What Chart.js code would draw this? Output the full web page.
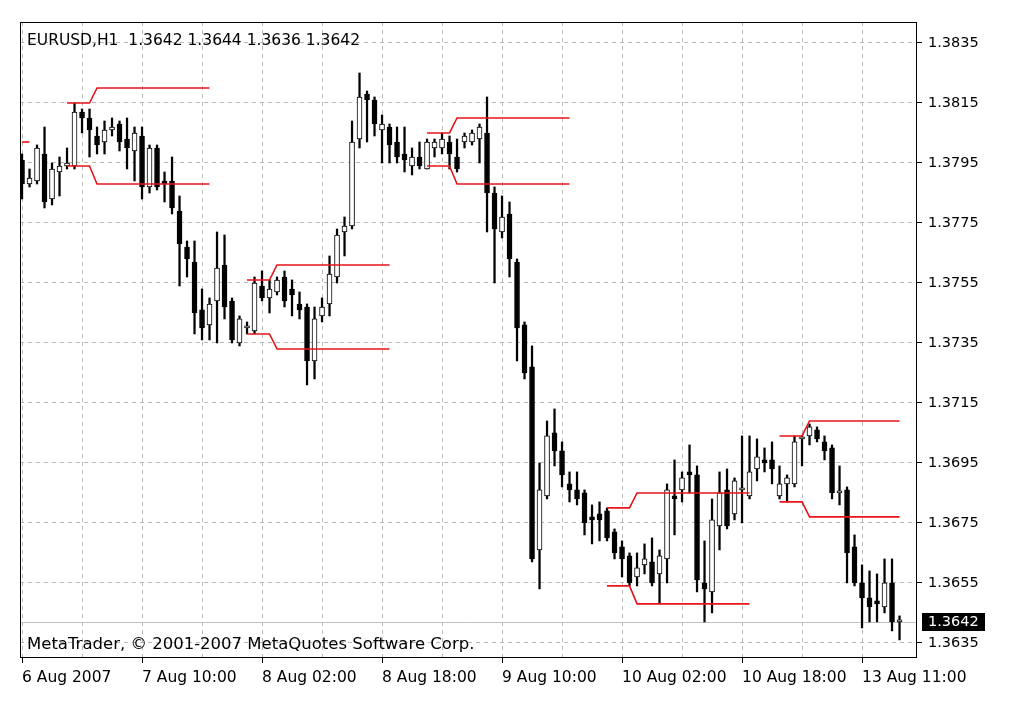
<!DOCTYPE html>
<html>
<head>
<meta charset="utf-8">
<title>EURUSD,H1</title>
<script src="https://cdn.jsdelivr.net/npm/chart.js@4.4.1/dist/chart.umd.min.js"></script>
<style>
  html, body { margin: 0; padding: 0; background: #fff; }
</style>
</head>
<body>
<canvas id="priceChart" width="1016" height="702"></canvas>
<script>
// EURUSD H1 bars (index 0 = 6 Aug 2007 18:00)
const symbol = 'EURUSD';
const period = 'H1';

const opens = [
  1.3796, 1.3788, 1.3789, 1.3798, 1.3783, 1.3792, 1.3794, 1.3794, 1.3812, 1.3810,
  1.3804, 1.3802, 1.3806, 1.3808, 1.3803, 1.3799, 1.3804, 1.3787, 1.3800, 1.3789,
  1.3789, 1.3779, 1.3767, 1.3762, 1.3746, 1.3741, 1.3749, 1.3761, 1.3749, 1.3735,
  1.3740, 1.3739, 1.3754, 1.3750, 1.3752, 1.3757, 1.3753, 1.3748, 1.3747, 1.3729,
  1.3744, 1.3748, 1.3757, 1.3772, 1.3774, 1.3803, 1.3818, 1.3816, 1.3806, 1.3807,
  1.3802, 1.3798, 1.3794, 1.3797, 1.3793, 1.3800, 1.3800, 1.3802, 1.3797, 1.3802,
  1.3802, 1.3803, 1.3805, 1.3785, 1.3772, 1.3778, 1.3762, 1.3741, 1.3727, 1.3666,
  1.3684, 1.3705, 1.3699, 1.3688, 1.3686, 1.3685, 1.3677, 1.3678, 1.3679, 1.3672,
  1.3667, 1.3664, 1.3657, 1.3661, 1.3662, 1.3658, 1.3663, 1.3684, 1.3686, 1.3692,
  1.3691, 1.3655, 1.3652, 1.3674, 1.3686, 1.3678, 1.3686, 1.3684, 1.3693, 1.3696,
  1.3696, 1.3684, 1.3688, 1.3688, 1.3703, 1.3704, 1.3706, 1.3702, 1.3700, 1.3685,
  1.3686, 1.3667, 1.3655, 1.3650, 1.3649, 1.3647, 1.3655, 1.3642
];
const highs = [
  1.3798, 1.3793, 1.3801, 1.3807, 1.3795, 1.3797, 1.3800, 1.3815, 1.3813, 1.3813,
  1.3807, 1.3809, 1.3810, 1.3809, 1.3810, 1.3807, 1.3807, 1.3801, 1.3801, 1.3792,
  1.3797, 1.3784, 1.3769, 1.3769, 1.3753, 1.3750, 1.3772, 1.3771, 1.3750, 1.3744,
  1.3742, 1.3757, 1.3759, 1.3756, 1.3757, 1.3759, 1.3756, 1.3752, 1.3748, 1.3747,
  1.3750, 1.3764, 1.3773, 1.3777, 1.3809, 1.3825, 1.3819, 1.3817, 1.3811, 1.3808,
  1.3807, 1.3807, 1.3800, 1.3802, 1.3803, 1.3803, 1.3805, 1.3804, 1.3803, 1.3805,
  1.3806, 1.3808, 1.3817, 1.3787, 1.3784, 1.3782, 1.3763, 1.3742, 1.3734, 1.3695,
  1.3709, 1.3713, 1.3702, 1.3692, 1.3692, 1.3686, 1.3681, 1.3682, 1.3680, 1.3673,
  1.3669, 1.3665, 1.3665, 1.3668, 1.3670, 1.3666, 1.3688, 1.3696, 1.3692, 1.3701,
  1.3694, 1.3669, 1.3683, 1.3692, 1.3693, 1.3690, 1.3704, 1.3704, 1.3703, 1.3700,
  1.3702, 1.3694, 1.3691, 1.3704, 1.3704, 1.3708, 1.3707, 1.3704, 1.3701, 1.3694,
  1.3687, 1.3671, 1.3661, 1.3659, 1.3658, 1.3663, 1.3663, 1.3644
];
const lows = [
  1.3783, 1.3787, 1.3788, 1.3780, 1.3781, 1.3784, 1.3793, 1.3793, 1.3805, 1.3797,
  1.3798, 1.3798, 1.3804, 1.3799, 1.3793, 1.3789, 1.3783, 1.3785, 1.3786, 1.3782,
  1.3778, 1.3754, 1.3757, 1.3738, 1.3736, 1.3736, 1.3735, 1.3743, 1.3735, 1.3734,
  1.3738, 1.3738, 1.3749, 1.3745, 1.3751, 1.3747, 1.3744, 1.3743, 1.3721, 1.3723,
  1.3742, 1.3744, 1.3755, 1.3764, 1.3773, 1.3800, 1.3802, 1.3804, 1.3795, 1.3795,
  1.3795, 1.3792, 1.3791, 1.3793, 1.3793, 1.3797, 1.3798, 1.3793, 1.3792, 1.3800,
  1.3801, 1.3795, 1.3772, 1.3755, 1.3770, 1.3757, 1.3729, 1.3723, 1.3662, 1.3653,
  1.3683, 1.3694, 1.3687, 1.3682, 1.3681, 1.3671, 1.3668, 1.3669, 1.3669, 1.3663,
  1.3657, 1.3654, 1.3654, 1.3658, 1.3654, 1.3648, 1.3655, 1.3671, 1.3682, 1.3685,
  1.3652, 1.3642, 1.3645, 1.3666, 1.3673, 1.3676, 1.3675, 1.3683, 1.3689, 1.3692,
  1.3688, 1.3683, 1.3682, 1.3687, 1.3694, 1.3701, 1.3702, 1.3696, 1.3683, 1.3681,
  1.3655, 1.3654, 1.3640, 1.3642, 1.3642, 1.3645, 1.3639, 1.3636
];
const closes = [
  1.3788, 1.3790, 1.3800, 1.3782, 1.3793, 1.3794, 1.3795, 1.3812, 1.3810, 1.3806,
  1.3801, 1.3806, 1.3807, 1.3802, 1.3800, 1.3805, 1.3787, 1.3800, 1.3787, 1.3788,
  1.3780, 1.3768, 1.3763, 1.3745, 1.3740, 1.3748, 1.3760, 1.3747, 1.3736, 1.3743,
  1.3740, 1.3755, 1.3750, 1.3753, 1.3756, 1.3749, 1.3751, 1.3746, 1.3729, 1.3743,
  1.3747, 1.3758, 1.3771, 1.3774, 1.3802, 1.3817, 1.3816, 1.3808, 1.3808, 1.3801,
  1.3797, 1.3796, 1.3797, 1.3794, 1.3802, 1.3802, 1.3803, 1.3798, 1.3793, 1.3804,
  1.3805, 1.3807, 1.3785, 1.3773, 1.3777, 1.3763, 1.3740, 1.3725, 1.3663, 1.3686,
  1.3704, 1.3699, 1.3691, 1.3686, 1.3683, 1.3675, 1.3676, 1.3676, 1.3670, 1.3665,
  1.3663, 1.3655, 1.3660, 1.3663, 1.3655, 1.3664, 1.3686, 1.3683, 1.3690, 1.3691,
  1.3656, 1.3653, 1.3676, 1.3685, 1.3674, 1.3689, 1.3686, 1.3692, 1.3697, 1.3695,
  1.3693, 1.3688, 1.3690, 1.3702, 1.3703, 1.3707, 1.3703, 1.3699, 1.3685, 1.3685,
  1.3665, 1.3655, 1.3650, 1.3647, 1.3648, 1.3655, 1.3642, 1.3642
];

// time axis labels (bar index -> text)
const timeLabelIdx = [0, 16, 32, 48, 64, 80, 96, 112];
const timeLabels = ['6 Aug 2007', '7 Aug 10:00', '8 Aug 02:00', '8 Aug 18:00',
                    '9 Aug 10:00', '10 Aug 02:00', '10 Aug 18:00', '13 Aug 11:00'];
const priceTicks = [1.3835, 1.3815, 1.3795, 1.3775, 1.3755, 1.3735, 1.3715, 1.3695, 1.3675, 1.3655, 1.3635];

// red range indicator: first bar of each range, level for the first 4 bars, then the level after the step
const rangeStart = [6, 30, 54, 78, 101];
const upperFirst = [1.3815, 1.3756, 1.3805, 1.3680, 1.3704];
const upperSecond = [1.3820, 1.3761, 1.3810, 1.3685, 1.3709];
const lowerFirst = [1.3794, 1.3738, 1.3794, 1.3654, 1.3682];
const lowerSecond = [1.3788, 1.3733, 1.3788, 1.3648, 1.3677];
// tail of the previous range at the left edge
const prevRangeIdx = [0, 1];
const prevRangeLevel = 1.3802;

const nBars = closes.length;
const lastBar = nBars - 1;

function rangeLine(first, second) {
    const pts = [];
    rangeStart.forEach(function (s, k) {
        const end = Math.min(s + 19, lastBar);
        for (let i = s; i <= end; i++) {
            pts.push({ x: i, y: i <= s + 3 ? first[k] : second[k] });
        }
        pts.push({ x: end + 0.5, y: null }); // break between ranges
    });
    return pts;
}

const wicks = lows.map((l, i) => ({ x: i, y: [l, highs[i]] }));
const bodies = opens.map((o, i) => ({ x: i, y: [o, closes[i]] }));
const isUp = i => closes[i] >= opens[i];

const fontFamily = '"DejaVu Sans", Verdana, sans-serif';

const mtOverlay = {
    id: 'mtOverlay',
    beforeDatasetsDraw(chart) {
        const { ctx, chartArea } = chart;
        const y = Math.round(chart.scales.y.getPixelForValue(closes[lastBar])) + 0.5;
        ctx.save();
        ctx.strokeStyle = '#c0c0c0';
        ctx.lineWidth = 1;
        ctx.beginPath();
        ctx.moveTo(chartArea.left, y);
        ctx.lineTo(chartArea.right, y);
        ctx.stroke();
        ctx.restore();
    },
    afterDraw(chart) {
        const { ctx, chartArea } = chart;
        ctx.save();
        // frame
        ctx.strokeStyle = '#000';
        ctx.lineWidth = 1;
        ctx.strokeRect(chartArea.left + 0.5, chartArea.top + 0.5,
                       chartArea.right - chartArea.left - 1, chartArea.bottom - chartArea.top);
        // header text
        ctx.fillStyle = '#000';
        ctx.textBaseline = 'middle';
        ctx.textAlign = 'left';
        const f = v => v.toFixed(4);
        ctx.font = '15.5px ' + fontFamily;
        ctx.fillText(symbol + ',' + period + '  ' + f(opens[lastBar]) + ' ' + f(highs[lastBar]) + ' ' +
                     f(lows[lastBar]) + ' ' + f(closes[lastBar]), chartArea.left + 7, chartArea.top + 19);
        ctx.font = '16.5px ' + fontFamily;
        ctx.fillText('MetaTrader, \u00A9 2001-2007 MetaQuotes Software Corp.', chartArea.left + 7, chartArea.bottom - 12);
        // last price box
        const yp = Math.round(chart.scales.y.getPixelForValue(closes[lastBar]));
        ctx.fillStyle = '#000';
        ctx.fillRect(chartArea.right + 5, yp - 9, 63, 18);
        ctx.fillStyle = '#fff';
        ctx.font = '14.5px ' + fontFamily;
        ctx.fillText(f(closes[lastBar]), chartArea.right + 11, yp);
        ctx.restore();
    }
};

const xTickColor = c => (c.tick && timeLabelIdx.includes(c.tick.value)) ? '#000' : 'rgba(0,0,0,0)';

const ctx = document.getElementById('priceChart').getContext('2d');
new Chart(ctx, {
    type: 'bar',
    data: {
        datasets: [
            {
                type: 'line',
                label: 'range high',
                data: rangeLine(upperFirst, upperSecond),
                borderColor: '#e8141a',
                borderWidth: 1.6,
                pointRadius: 0,
                spanGaps: false,
                order: 0
            },
            {
                type: 'line',
                label: 'range low',
                data: rangeLine(lowerFirst, lowerSecond),
                borderColor: '#e8141a',
                borderWidth: 1.6,
                pointRadius: 0,
                spanGaps: false,
                order: 0
            },
            {
                type: 'line',
                label: 'previous range',
                data: prevRangeIdx.map(i => ({ x: i, y: prevRangeLevel })),
                borderColor: '#e8141a',
                borderWidth: 1.6,
                pointRadius: 0,
                order: 0
            },
            {
                label: 'body',
                data: bodies,
                grouped: false,
                barThickness: 5,
                minBarLength: 2,
                borderWidth: 1,
                borderSkipped: false,
                borderColor: '#000',
                backgroundColor: c => isUp(c.dataIndex) ? '#fff' : '#000',
                order: 1
            },
            {
                label: 'wick',
                data: wicks,
                grouped: false,
                barThickness: 1.6,
                backgroundColor: '#000',
                borderWidth: 0,
                order: 2
            }
        ]
    },
    options: {
        responsive: false,
        animation: false,
        layout: { padding: { left: 20, top: 22, right: 0, bottom: 0 } },
        plugins: {
            legend: { display: false },
            tooltip: { enabled: false }
        },
        scales: {
            x: {
                type: 'linear',
                offset: false,
                min: -0.27,
                max: 119.33,
                afterBuildTicks: scale => {
                    const t = [];
                    for (let i = 0; i <= 112; i += 8) t.push({ value: i });
                    scale.ticks = t;
                },
                afterFit: scale => { scale.height = 45; },
                grid: {
                    offset: false,
                    color: '#b8b8b8',
                    tickColor: xTickColor,
                    tickLength: 6,
                    tickBorderDash: []
                },
                border: { display: false, dash: [4, 4] },
                ticks: {
                    autoSkip: false,
                    maxRotation: 0,
                    align: 'start',
                    padding: 6,
                    color: '#000',
                    font: { family: fontFamily, size: 15.5 },
                    callback: value => {
                        const k = timeLabelIdx.indexOf(value);
                        return k >= 0 ? timeLabels[k] : '';
                    }
                }
            },
            y: {
                position: 'right',
                min: 1.36303,
                max: 1.38420,
                afterBuildTicks: scale => {
                    scale.ticks = priceTicks.map(v => ({ value: v }));
                },
                afterFit: scale => { scale.width = 99; },
                grid: {
                    color: '#b8b8b8',
                    tickColor: '#000',
                    tickLength: 5,
                    tickBorderDash: []
                },
                border: { display: false, dash: [4, 4] },
                ticks: {
                    padding: 6,
                    color: '#000',
                    font: { family: fontFamily, size: 14.5 },
                    callback: value => value.toFixed(4)
                }
            }
        }
    },
    plugins: [mtOverlay]
});
</script>
</body>
</html>
